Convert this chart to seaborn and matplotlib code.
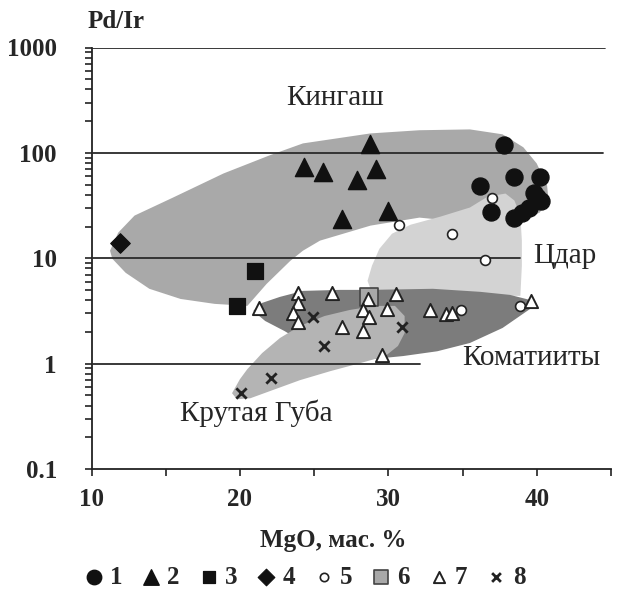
import numpy as np
import pandas as pd
import matplotlib
matplotlib.use("Agg")
import matplotlib.pyplot as plt
import seaborn as sns
from matplotlib.ticker import FixedLocator, FixedFormatter, MultipleLocator, LogLocator, NullFormatter

sns.set_theme(style="white")
plt.rcParams['font.family'] = ['Liberation Serif', 'DejaVu Serif']

# ---------------- data ----------------
s1_mgo = [37.8, 38.5, 40.2, 36.2, 36.9, 39.8, 40.3, 39.5, 39.0, 38.5, 40.0]
s1_pdir = [120, 59, 59, 49, 27.7, 42, 35, 30, 27, 24, 38]

s2_mgo = [28.8, 24.3, 25.6, 29.2, 27.9, 26.9, 30.0]
s2_pdir = [122, 73, 66, 71, 55, 23.6, 28]

s3_mgo = [21.0, 19.8]
s3_pdir = [7.6, 3.5]

s4_mgo = [11.9]
s4_pdir = [14.1]

s5_mgo = [37.0, 34.3, 30.7, 36.5, 34.9, 38.9]
s5_pdir = [37.5, 17.0, 20.5, 9.7, 3.2, 3.5]

s6_mgo = [28.7]
s6_pdir = [4.3]

s7_mgo = [21.3, 23.9, 23.9, 23.6, 23.9, 26.2, 28.6, 30.5, 28.3, 28.7, 29.9,
          32.8, 33.9, 34.3, 39.6, 26.9, 28.3, 29.6]
s7_pdir = [3.4, 4.7, 3.8, 3.0, 2.5, 4.7, 4.1, 4.6, 3.2, 2.8, 3.3,
           3.2, 2.95, 3.0, 3.9, 2.25, 2.05, 1.2]

s8_mgo = [24.95, 25.7, 22.1, 20.1, 30.9]
s8_pdir = [2.77, 1.47, 0.73, 0.53, 2.23]

series_labels = ["1", "2", "3", "4", "5", "6", "7", "8"]

# field outlines (MgO, Pd/Ir)
kingash_mgo = [11.25, 11.8, 12.9, 15.5, 18.9, 22.0, 24.25, 28.8, 32.1, 35.5, 37.7, 39.1,
               40.0, 40.7, 40.8, 40.2, 38.9, 35.5, 32.1, 28.8, 25.4, 24.25, 23.4, 21.8,
               20.5, 18.3, 16.0, 13.9, 12.3, 11.4]
kingash_pdir = [11.8, 17.5, 25.4, 37.7, 63.8, 94.7, 123, 153, 164, 167, 150, 113,
                79.4, 49, 35.3, 27.1, 22.8, 21.8, 24.3, 20.4, 14.7, 11.8, 9.46, 5.71,
                3.53, 3.69, 4.11, 5.13, 7.28, 9.9]

tsdar_mgo = [28.9, 28.6, 28.9, 29.4, 30.25, 31.5, 33.5, 35.5, 36.7, 37.9, 38.5, 38.9,
             39.0, 39.0, 38.9, 33.0]
tsdar_pdir = [4.69, 6.1, 8.5, 12.3, 17.1, 20.8, 24.8, 30.3, 38.5, 41.1, 35.3, 25.4,
              14.7, 8.5, 4.4, 4.4]

komat_mgo = [20.9, 21.5, 22.7, 24.25, 26.75, 28.8, 33.0, 36.2, 38.2, 39.55, 39.9, 39.55,
             37.7, 35.5, 33.3, 31.0, 28.8, 26.75, 24.7, 23.0, 21.7]
komat_pdir = [3.16, 3.77, 4.3, 4.9, 5.01, 5.01, 5.13, 4.8, 4.49, 4.02, 3.69, 3.3,
              2.18, 1.57, 1.31, 1.18, 1.1, 1.18, 1.47, 2.04, 2.54]

kruta_mgo = [19.47, 20.0, 20.5, 21.5, 22.7, 24.05, 25.7, 27.4, 29.1, 30.45, 31.1, 31.1,
             30.65, 29.8, 28.1, 26.1, 24.05, 22.0, 20.7, 19.8]
kruta_pdir = [0.524, 0.711, 0.886, 1.26, 1.75, 2.28, 2.83, 3.23, 3.53, 3.53, 2.83, 1.95,
              1.47, 1.18, 1.01, 0.849, 0.697, 0.547, 0.469, 0.459]

y_ticks = [0.1, 1, 10, 100, 1000]
y_ticklabels = ["0.1", "1", "10", "100", "1000"]
x_ticks = [10, 20, 30, 40]
x_ticklabels = ["10", "20", "30", "40"]

# ---------------- figure ----------------
fig = plt.figure(figsize=(6.2, 5.95), dpi=100)
ax = fig.add_axes([91.5 / 620, 1 - 469 / 595, (610.9 - 91.5) / 620, (469 - 47.5) / 595])
ax.set_facecolor("white")

ax.fill(kingash_mgo, kingash_pdir, color="#a9a9a9", lw=0, zorder=1)
ax.fill(tsdar_mgo, tsdar_pdir, color="#d3d3d3", lw=0, zorder=2)
ax.fill(komat_mgo, komat_pdir, color="#7c7c7c", lw=0, zorder=3)
ax.fill(kruta_mgo, kruta_pdir, color="#b4b4b4", lw=0, zorder=4)

# horizontal decade lines
for val, xm in [(1000, 0.989), (100, 0.985), (10, 0.825), (1, 0.632)]:
    ax.axhline(val, xmin=0, xmax=xm, color="#2a2a2a", lw=1.3, zorder=5)

def scat(x, y, label, **kw):
    df = pd.DataFrame({"MgO": x, "PdIr": y})
    sns.scatterplot(data=df, x="MgO", y="PdIr", ax=ax, label=label, zorder=6, **kw)

scat(s1_mgo, s1_pdir, series_labels[0], marker="o", s=150, color="#111111", edgecolor="#111111")
scat(s2_mgo, s2_pdir, series_labels[1], marker="^", s=170, color="#111111", edgecolor="#111111")
scat(s3_mgo, s3_pdir, series_labels[2], marker="s", s=120, color="#111111", edgecolor="#111111")
scat(s4_mgo, s4_pdir, series_labels[3], marker="D", s=100, color="#111111", edgecolor="#111111")
scat(s5_mgo, s5_pdir, series_labels[4], marker="o", s=50, color="white", edgecolor="#222222", linewidth=1.2)
scat(s6_mgo, s6_pdir, series_labels[5], marker="s", s=150, color="#a8a8a8", edgecolor="#444444", linewidth=1.2)
scat(s7_mgo, s7_pdir, series_labels[6], marker="^", s=90, color="white", edgecolor="#222222", linewidth=1.4)
scat(s8_mgo, s8_pdir, series_labels[7], marker="x", s=55, color="#222222", linewidth=2)

ax.set_yscale("log")
ax.set_xlim(10, 45)
ax.set_ylim(0.1, 1000)
ax.set_xlabel("")
ax.set_ylabel("")

ax.yaxis.set_major_locator(FixedLocator(y_ticks))
ax.yaxis.set_major_formatter(FixedFormatter(y_ticklabels))
ax.yaxis.set_minor_locator(LogLocator(base=10, subs=np.arange(2, 10)))
ax.yaxis.set_minor_formatter(NullFormatter())
ax.xaxis.set_major_locator(FixedLocator(x_ticks))
ax.xaxis.set_major_formatter(FixedFormatter(x_ticklabels))
ax.xaxis.set_minor_locator(MultipleLocator(5))

ax.tick_params(axis="both", which="both", direction="out", length=5, width=1.2,
               color="#222222", bottom=True, left=True)
ax.tick_params(axis="y", which="major", length=5, pad=20)
ax.tick_params(axis="x", which="major", pad=9)
for lab in ax.get_xticklabels() + ax.get_yticklabels():
    lab.set_fontweight("bold")
    lab.set_fontsize(18)

for sp in ["top", "right"]:
    ax.spines[sp].set_visible(False)
for sp in ["left", "bottom"]:
    ax.spines[sp].set_color("#222222")
    ax.spines[sp].set_linewidth(1.3)

# field labels
ax.text(26.4, 330, "Кингаш", fontsize=21, ha="center", va="center", zorder=8)
ax.text(41.9, 10.6, "Цдар", fontsize=21, ha="center", va="center", zorder=8)
ax.text(39.6, 1.13, "Коматииты", fontsize=21, ha="center", va="center", zorder=8)
ax.text(21.1, 0.34, "Крутая Губа", fontsize=21, ha="center", va="center", zorder=8)

fig.text(116 / 620, 1 - 22 / 595, "Pd/Ir", fontsize=18, fontweight="bold", ha="center", va="center")
fig.text(333 / 620, 1 - 540 / 595, "MgO, мас. %", fontsize=18, fontweight="bold", ha="center", va="center")

handles, labels = ax.get_legend_handles_labels()
ax.legend_.remove()
fig.legend(handles, labels, loc="center", bbox_to_anchor=(302 / 620, 1 - 577 / 595), ncol=8,
           frameon=False, handletextpad=0.05, columnspacing=0.55, handlelength=1.2,
           prop={"weight": "bold", "size": 18}, markerscale=0.85)

fig.savefig("out.png", dpi=100, facecolor="white")
